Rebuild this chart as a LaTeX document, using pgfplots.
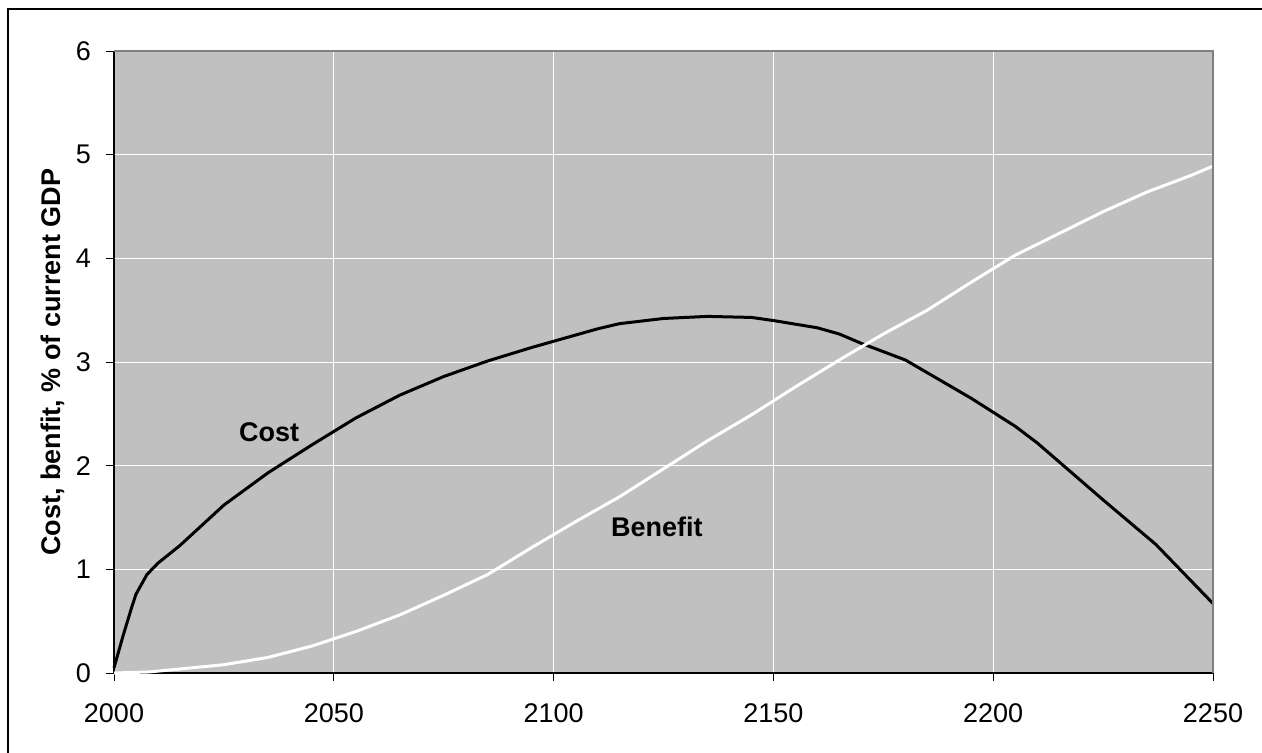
\documentclass[border=0pt]{standalone}
\usepackage{pgfplots}
\pgfplotsset{compat=1.18}
\usepackage{fontspec}
\setmainfont{Liberation Sans}
\definecolor{plotgray}{HTML}{C0C0C0}
\definecolor{edgegray}{HTML}{808080}

\begin{document}
\begin{tikzpicture}
\useasboundingbox (0,0) rectangle (631pt,376pt);
\draw[line width=1pt] (4.2pt,-10pt) -- (4.2pt,371.5pt) -- (650pt,371.5pt);
\begin{axis}[
    at={(57pt,39.5pt)}, anchor=south west,
    width=549.5pt, height=311pt, scale only axis,
    xmin=2000, xmax=2250, ymin=0, ymax=6,
    xtick={2000,2050,...,2250}, ytick={0,1,...,6},
    axis x line*=bottom, axis y line*=left,
    axis line style={black, line width=0.6pt},
    axis background/.style={fill=plotgray},
    grid=major, major grid style={white, line width=0.5pt},
    tick align=outside, major tick length=4pt,
    tick style={black, line width=0.5pt},
    ticklabel style={font=\fontsize{13.5}{16}\selectfont},
    /pgf/number format/assume math mode=true,
    xticklabel style={/pgf/number format/1000 sep={}, yshift=-8pt},
    yticklabel style={xshift=-4pt},
    clip=false,
]
% cost
\addplot [black, line width=1.5pt] table {
2000 0.05
2002 0.35
2004 0.63
2005 0.76
2007.5 0.95
2010 1.06
2015 1.23
2025 1.62
2035 1.93
2045 2.20
2055 2.46
2065 2.68
2075 2.86
2085 3.01
2095 3.14
2105 3.26
2110 3.32
2115 3.37
2125 3.42
2135 3.44
2145 3.43
2150 3.40
2160 3.33
2165 3.27
2170 3.18
2180 3.02
2195 2.65
2205 2.38
2210 2.22
2225 1.67
2237 1.24
2250 0.67
};
% benefit
\addplot [white, line width=1.5pt] table {
2000 0.00
2008 0.01
2025 0.08
2035 0.15
2045 0.26
2050 0.33
2055 0.40
2065 0.56
2075 0.75
2085 0.95
2095 1.21
2105 1.46
2115 1.70
2125 1.97
2135 2.24
2145 2.49
2155 2.76
2165 3.02
2175 3.27
2185 3.50
2195 3.77
2205 4.03
2215 4.24
2225 4.45
2235 4.64
2245 4.80
2250 4.89
};
\draw[edgegray, line width=0.6pt] (rel axis cs:0,1) -- (rel axis cs:1,1) -- (rel axis cs:1,0);
\node[font=\fontsize{13.5}{16}\selectfont\bfseries] at (axis cs:2035.3,2.32) {Cost};
\node[font=\fontsize{13.5}{16}\selectfont\bfseries] at (axis cs:2123.5,1.41) {Benefit};
\end{axis}
\node[rotate=90, font=\fontsize{13.5}{16}\selectfont\bfseries] at (26.5pt,195pt) {Cost, benfit, \% of current GDP};
\end{tikzpicture}
\end{document}
